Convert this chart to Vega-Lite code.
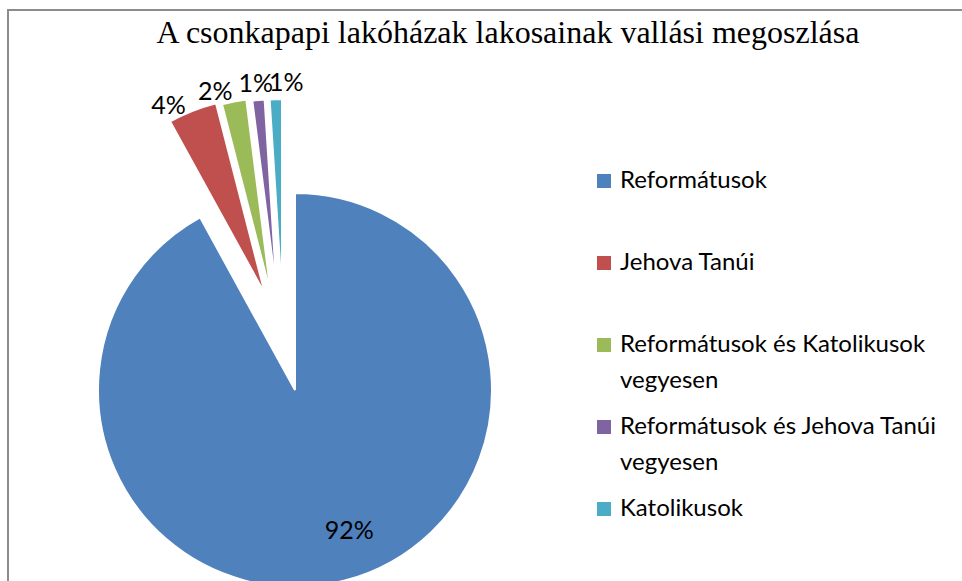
{
  "$schema": "https://vega.github.io/schema/vega-lite/v6.json",
  "autosize": {"type": "none"},
  "padding": {"left": 8, "top": 10, "right": 0, "bottom": 0},
  "width": 1000,
  "height": 620,
  "background": "white",
  "config": {
    "font": "Lato",
    "style": {"guide-label": {"lineHeight": 36}}
  },
  "layer": [
    {
      "data": {
        "values": [
          {"cat": "Reformátusok", "v": 92, "lab": "92%", "o": 1},
          {"cat": "Jehova Tanúi", "v": 4, "lab": "4%", "o": 2},
          {"cat": "Reformátusok és Katolikusok vegyesen", "v": 2, "lab": "2%", "o": 3},
          {"cat": "Reformátusok és Jehova Tanúi vegyesen", "v": 1, "lab": "1%", "o": 4},
          {"cat": "Katolikusok", "v": 1, "lab": "1%", "o": 5}
        ]
      },
      "encoding": {
        "theta": {"field": "v", "type": "quantitative", "stack": true},
        "order": {"field": "o", "type": "quantitative"},
        "color": {
          "field": "cat",
          "type": "nominal",
          "sort": null,
          "scale": {
            "domain": ["Reformátusok", "Jehova Tanúi", "Reformátusok és Katolikusok vegyesen", "Reformátusok és Jehova Tanúi vegyesen", "Katolikusok"],
            "range": ["#4F81BD", "#C0504D", "#9BBB59", "#8064A2", "#4BACC6"]
          },
          "legend": {
            "title": null,
            "orient": "none",
            "legendX": 584,
            "legendY": 159,
            "symbolType": "square",
            "symbolSize": 196,
            "symbolStrokeWidth": 0,
            "labelFont": "Lato",
            "labelFontSize": 24,
            "labelColor": "black",
            "labelOffset": 4,
            "labelLimit": 500,
            "rowPadding": 22,
            "gridAlign": "all",
            "labelExpr": "indexof(datum.label, ' vegyesen') > 0 ? [replace(datum.label, ' vegyesen', ''), 'vegyesen'] : datum.label"
          }
        }
      },
      "layer": [
        {
          "mark": {"type": "arc", "x": 287, "y": 380, "radius": 197, "stroke": "white", "strokeWidth": 2},
          "encoding": {"opacity": {"condition": {"test": "datum.cat === 'Reformátusok'", "value": 1}, "value": 0}}
        },
        {
          "mark": {"type": "arc", "x": 257, "y": 284, "radius": 197, "stroke": "white", "strokeWidth": 2},
          "encoding": {"opacity": {"condition": {"test": "datum.cat === 'Jehova Tanúi'", "value": 1}, "value": 0}}
        },
        {
          "mark": {"type": "arc", "x": 263, "y": 285, "radius": 197, "stroke": "white", "strokeWidth": 2},
          "encoding": {"opacity": {"condition": {"test": "datum.cat === 'Reformátusok és Katolikusok vegyesen'", "value": 1}, "value": 0}}
        },
        {
          "mark": {"type": "arc", "x": 269, "y": 286, "radius": 197, "stroke": "white", "strokeWidth": 2},
          "encoding": {"opacity": {"condition": {"test": "datum.cat === 'Reformátusok és Jehova Tanúi vegyesen'", "value": 1}, "value": 0}}
        },
        {
          "mark": {"type": "arc", "x": 274, "y": 286, "radius": 197, "stroke": "white", "strokeWidth": 2},
          "encoding": {"opacity": {"condition": {"test": "datum.cat === 'Katolikusok'", "value": 1}, "value": 0}}
        },
        {
          "mark": {"type": "text", "x": 287, "y": 380, "radius": 151, "thetaOffset": -0.117, "font": "Lato", "fontSize": 25},
          "encoding": {
            "color": {"value": "black"},
            "text": {"condition": {"test": "datum.cat === 'Reformátusok'", "field": "lab"}, "value": ""}
          }
        },
        {
          "mark": {"type": "text", "x": 257, "y": 284, "radius": 211, "thetaOffset": -0.098, "font": "Lato", "fontSize": 25},
          "encoding": {
            "color": {"value": "black"},
            "text": {"condition": {"test": "datum.cat === 'Jehova Tanúi'", "field": "lab"}, "value": ""}
          }
        },
        {
          "mark": {"type": "text", "x": 263, "y": 285, "radius": 211, "thetaOffset": -0.079, "font": "Lato", "fontSize": 25},
          "encoding": {
            "color": {"value": "black"},
            "text": {"condition": {"test": "datum.cat === 'Reformátusok és Katolikusok vegyesen'", "field": "lab"}, "value": ""}
          }
        },
        {
          "mark": {"type": "text", "x": 269, "y": 286, "radius": 213, "thetaOffset": -0.006, "font": "Lato", "fontSize": 25},
          "encoding": {
            "color": {"value": "black"},
            "text": {"condition": {"test": "datum.cat === 'Reformátusok és Jehova Tanúi vegyesen'", "field": "lab"}, "value": ""}
          }
        },
        {
          "mark": {"type": "text", "x": 274, "y": 286, "radius": 213, "thetaOffset": 0.052, "font": "Lato", "fontSize": 25},
          "encoding": {
            "color": {"value": "black"},
            "text": {"condition": {"test": "datum.cat === 'Katolikusok'", "field": "lab"}, "value": ""}
          }
        }
      ]
    },
    {
      "data": {"values": [{"title": "A csonkapapi lakóházak lakosainak vallási megoszlása"}]},
      "mark": {"type": "text", "y": 33, "baseline": "alphabetic", "align": "center", "font": "Liberation Serif", "fontSize": 32, "color": "black"},
      "encoding": {"text": {"field": "title", "type": "nominal"}}
    },
    {
      "data": {"values": [{"frame": "chart area"}]},
      "mark": {"type": "rect", "filled": false, "fill": null, "stroke": "#8c8c8c", "strokeWidth": 2},
      "encoding": {}
    }
  ]
}
